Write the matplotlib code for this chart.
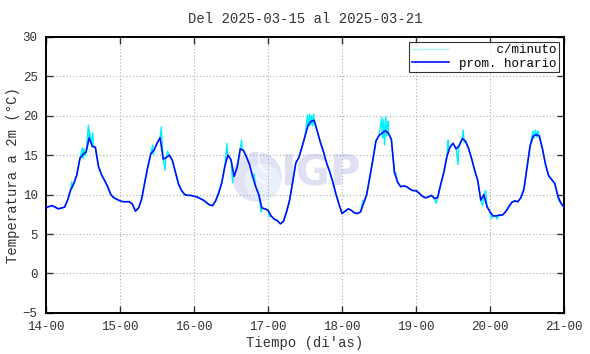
import numpy as np
import matplotlib
matplotlib.use("Agg")
import matplotlib.pyplot as plt
from matplotlib.patches import Ellipse, Arc

plt.rcParams['font.family'] = ['Liberation Mono', 'DejaVu Sans Mono']

title = "Del 2025-03-15 al 2025-03-21"
day_labels = ["14-00", "15-00", "16-00", "17-00", "18-00", "19-00", "20-00", "21-00"]

# hourly means, 14-00 .. 21-00 (169 values)
hourly = [
    # 14
    8.3, 8.5, 8.6, 8.4, 8.2, 8.3, 8.4, 9.3, 10.6, 11.4, 12.5, 14.6,
    15.1, 15.4, 17.2, 16.1, 16.0, 13.6, 12.5, 11.8, 11.0, 10.0, 9.6, 9.4,
    # 15
    9.2, 9.1, 9.1, 9.1, 8.8, 7.9, 8.3, 9.4, 11.5, 13.5, 15.2, 15.6,
    16.5, 17.2, 14.5, 14.7, 15.0, 14.3, 12.8, 11.3, 10.5, 10.0, 9.9, 9.9,
    # 16
    9.8, 9.7, 9.5, 9.3, 9.0, 8.7, 8.6, 9.2, 10.2, 11.5, 13.6, 15.0,
    14.4, 12.3, 13.5, 15.8, 15.6, 14.8, 13.8, 12.3, 11.0, 10.0, 8.3, 8.2,
    # 17
    8.0, 7.3, 6.9, 6.7, 6.3, 6.6, 7.8, 9.3, 11.6, 14.0, 14.7, 16.0,
    17.4, 18.8, 19.3, 19.4, 18.0, 16.6, 15.4, 14.0, 12.9, 11.6, 10.1, 8.8,
    # 18
    7.6, 7.9, 8.2, 8.0, 7.7, 7.6, 7.8, 8.9, 10.0, 12.2, 14.4, 16.8,
    17.5, 17.8, 18.1, 17.8, 17.0, 12.8, 11.6, 11.0, 11.1, 11.0, 10.7, 10.5,
    # 19
    10.5, 10.2, 9.8, 9.6, 9.7, 9.9, 9.5, 9.6, 11.3, 12.8, 14.8, 16.0,
    16.5, 15.8, 16.2, 17.1, 16.8, 15.9, 14.6, 13.1, 11.8, 9.3, 10.0, 8.5,
    # 20
    7.8, 7.3, 7.3, 7.4, 7.4, 7.8, 8.4, 9.0, 9.2, 9.1, 9.6, 10.7,
    13.5, 16.2, 17.4, 17.6, 17.4, 15.8, 13.8, 12.4, 11.9, 11.4, 9.8, 8.9,
    8.4,
]

# per-minute excursions (hours since 14-00, degC)
spike_t = [8.3, 8.5,
           11.8, 12.0, 12.3, 12.6, 13.75, 13.9, 14.05, 15.1, 15.3,
           34.6, 34.8, 37.4, 37.6, 38.6, 38.8, 39.4,
           58.7, 58.9, 60.5, 60.8, 63.4, 63.6, 67.5, 69.8,
           72.4, 84.8, 85.2, 85.5, 85.8, 86.1, 86.5, 86.8, 87.1,
           102.8, 108.9, 109.2, 109.5, 109.8, 110.2, 110.5, 110.9, 113.4,
           126.5, 130.4, 130.6, 133.6, 133.8, 135.3, 135.6, 141.6, 142.6, 144.4,
           146.2, 157.9, 158.3, 158.7, 159.1, 159.5, 166.2]
spike_v = [11.6, 10.8,
           15.9, 14.6, 15.8, 14.9, 18.8, 16.8, 18.2, 17.8, 16.2,
           16.3, 15.1, 18.6, 17.0, 13.1, 14.4, 15.5,
           16.5, 15.0, 11.5, 12.6, 16.9, 15.9, 12.6, 7.8,
           7.2, 20.1, 18.6, 20.2, 18.8, 20.0, 18.7, 20.2, 19.0,
           9.3, 19.8, 17.2, 19.5, 16.3, 19.9, 17.4, 19.3, 12.8,
           8.9, 16.9, 15.6, 13.8, 15.9, 18.2, 16.6, 8.6, 10.5, 7.0,
           6.9, 18.0, 17.2, 18.2, 17.3, 18.1, 9.3]

hours = np.arange(len(hourly))
cyan_t = np.concatenate([hours, spike_t])
cyan_v = np.concatenate([hourly, spike_v])
order = np.argsort(cyan_t, kind="stable")
cyan_t, cyan_v = cyan_t[order], cyan_v[order]

fig = plt.figure(figsize=(5.9, 3.54), dpi=100)
ax = fig.add_axes([0.078, 0.116, 0.878, 0.78])

# IGP watermark (axes is 518 x 276 px, so scale heights to keep it round)
asp = 518 / 276
ax.add_patch(Ellipse((0.407, 0.493), 0.096, 0.096 * asp, transform=ax.transAxes,
                     facecolor="#e2e2f6", edgecolor="none", zorder=0))
ax.add_patch(Ellipse((0.418, 0.475), 0.07, 0.07 * asp, transform=ax.transAxes,
                     facecolor="#e8f0fb", edgecolor="none", zorder=0))
for r in (0.03, 0.05):
    ax.add_patch(Arc((0.44, 0.56), r * 2, r * 2 * asp, theta1=110, theta2=260,
                     transform=ax.transAxes, color="white", lw=1.0, zorder=0))
ax.text(0.53, 0.505, "IGP", transform=ax.transAxes, ha="center", va="center",
        fontsize=30, fontweight="bold", family="DejaVu Sans",
        color="#e0e0f3", zorder=0)

ax.plot(cyan_t, cyan_v, color="#00f0ff", lw=1.0, label="     c/minuto", zorder=2)
ax.plot(hours, hourly, color="#0010ff", lw=1.2, label="prom. horario", zorder=3)

ax.set_xlim(0, 168)
ax.set_ylim(-5, 30)
ax.set_xticks(np.arange(0, 169, 24))
ax.set_xticklabels(day_labels)
ax.set_yticks(np.arange(-5, 31, 5))
ax.tick_params(direction="in", length=5, width=1, top=True, right=True,
               labelsize=9, colors="#333333", labelcolor="#333333", pad=6)
for s in ax.spines.values():
    s.set_linewidth(1.4)
ax.grid(True, linestyle=(0, (1, 2)), color="#aaaaaa", lw=0.8)

ax.set_title(title, fontsize=10, color="#333333", pad=10)
ax.set_xlabel("Tiempo (di'as)", fontsize=10, color="#333333", labelpad=2)
ax.set_ylabel("Temperatura a 2m (°C)", fontsize=10, color="#333333", labelpad=2)

leg = ax.legend(loc="upper right", fontsize=9, frameon=True, fancybox=False,
                borderaxespad=0.4, handlelength=3.0, borderpad=0.2,
                labelspacing=0.1, handletextpad=0.8)
leg.get_frame().set_edgecolor("black")
leg.get_frame().set_linewidth(0.8)
leg.legend_handles[0].set_color("#b0f4fa")

fig.savefig("out.png", dpi=100)
